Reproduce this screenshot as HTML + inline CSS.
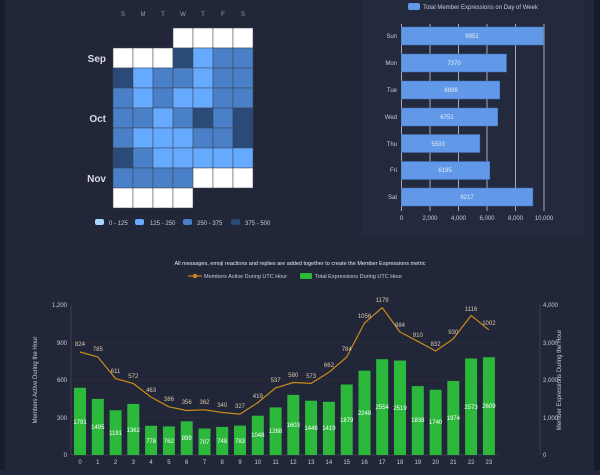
<!DOCTYPE html>
<html><head><meta charset="utf-8"><style>
body{margin:0;width:600px;height:470px;background:#222639;overflow:hidden;font-family:"Liberation Sans",sans-serif}
</style></head><body>
<svg width="600" height="470" xmlns="http://www.w3.org/2000/svg" font-family="Liberation Sans, sans-serif">
<rect width="600" height="470" fill="#222639"/>
<rect x="0" y="0" width="5" height="470" fill="#1a1d2c"/>
<rect x="594" y="0" width="6" height="470" fill="#171a27"/>
<rect x="362" y="0" width="222" height="236" fill="#242a3d"/>
<!-- heatmap -->
<g font-size="6" fill="#9aa0b0" text-anchor="middle">
<text x="123" y="16">S</text><text x="143" y="16">M</text><text x="163" y="16">T</text><text x="183" y="16">W</text><text x="203" y="16">T</text><text x="223" y="16">F</text><text x="243" y="16">S</text>
</g>
<g font-size="10" font-weight="bold" fill="#d8dae0" text-anchor="end">
<text x="106" y="62">Sep</text><text x="106" y="122">Oct</text><text x="106" y="182">Nov</text>
</g>
<g stroke="#3a3f52" stroke-width="0.5">
<rect x="173" y="28" width="20" height="20" fill="#fff"/><rect x="193" y="28" width="20" height="20" fill="#fff"/><rect x="213" y="28" width="20" height="20" fill="#fff"/><rect x="233" y="28" width="20" height="20" fill="#fff"/>
<rect x="113" y="48" width="20" height="20" fill="#fff"/><rect x="133" y="48" width="20" height="20" fill="#fff"/><rect x="153" y="48" width="20" height="20" fill="#fff"/><rect x="173" y="48" width="20" height="20" fill="#2a4a78"/><rect x="193" y="48" width="20" height="20" fill="#66aaff"/><rect x="213" y="48" width="20" height="20" fill="#4a80c8"/><rect x="233" y="48" width="20" height="20" fill="#4a80c8"/>
<rect x="113" y="68" width="20" height="20" fill="#2a4a78"/><rect x="133" y="68" width="20" height="20" fill="#66aaff"/><rect x="153" y="68" width="20" height="20" fill="#4a80c8"/><rect x="173" y="68" width="20" height="20" fill="#4a80c8"/><rect x="193" y="68" width="20" height="20" fill="#66aaff"/><rect x="213" y="68" width="20" height="20" fill="#4a80c8"/><rect x="233" y="68" width="20" height="20" fill="#4a80c8"/>
<rect x="113" y="88" width="20" height="20" fill="#4a80c8"/><rect x="133" y="88" width="20" height="20" fill="#66aaff"/><rect x="153" y="88" width="20" height="20" fill="#4a80c8"/><rect x="173" y="88" width="20" height="20" fill="#66aaff"/><rect x="193" y="88" width="20" height="20" fill="#66aaff"/><rect x="213" y="88" width="20" height="20" fill="#4a80c8"/><rect x="233" y="88" width="20" height="20" fill="#4a80c8"/>
<rect x="113" y="108" width="20" height="20" fill="#4a80c8"/><rect x="133" y="108" width="20" height="20" fill="#4a80c8"/><rect x="153" y="108" width="20" height="20" fill="#66aaff"/><rect x="173" y="108" width="20" height="20" fill="#4a80c8"/><rect x="193" y="108" width="20" height="20" fill="#2a4a78"/><rect x="213" y="108" width="20" height="20" fill="#4a80c8"/><rect x="233" y="108" width="20" height="20" fill="#2a4a78"/>
<rect x="113" y="128" width="20" height="20" fill="#4a80c8"/><rect x="133" y="128" width="20" height="20" fill="#66aaff"/><rect x="153" y="128" width="20" height="20" fill="#66aaff"/><rect x="173" y="128" width="20" height="20" fill="#66aaff"/><rect x="193" y="128" width="20" height="20" fill="#4a80c8"/><rect x="213" y="128" width="20" height="20" fill="#4a80c8"/><rect x="233" y="128" width="20" height="20" fill="#2a4a78"/>
<rect x="113" y="148" width="20" height="20" fill="#2a4a78"/><rect x="133" y="148" width="20" height="20" fill="#4a80c8"/><rect x="153" y="148" width="20" height="20" fill="#66aaff"/><rect x="173" y="148" width="20" height="20" fill="#66aaff"/><rect x="193" y="148" width="20" height="20" fill="#66aaff"/><rect x="213" y="148" width="20" height="20" fill="#66aaff"/><rect x="233" y="148" width="20" height="20" fill="#66aaff"/>
<rect x="113" y="168" width="20" height="20" fill="#4a80c8"/><rect x="133" y="168" width="20" height="20" fill="#4a80c8"/><rect x="153" y="168" width="20" height="20" fill="#4a80c8"/><rect x="173" y="168" width="20" height="20" fill="#4a80c8"/><rect x="193" y="168" width="20" height="20" fill="#fff"/><rect x="213" y="168" width="20" height="20" fill="#fff"/><rect x="233" y="168" width="20" height="20" fill="#fff"/>
<rect x="113" y="188" width="20" height="20" fill="#fff"/><rect x="133" y="188" width="20" height="20" fill="#fff"/><rect x="153" y="188" width="20" height="20" fill="#fff"/><rect x="173" y="188" width="20" height="20" fill="#fff"/>
</g>
<g font-size="6" fill="#c8ccd8">
<rect x="95" y="219" width="9" height="6" rx="2" fill="#a8d4ff"/><text x="109" y="225">0 - 125</text>
<rect x="135" y="219" width="9" height="6" rx="2" fill="#66aaff"/><text x="150" y="225">125 - 250</text>
<rect x="183" y="219" width="9" height="6" rx="2" fill="#4a80c8"/><text x="197" y="225">250 - 375</text>
<rect x="231" y="219" width="9" height="6" rx="2" fill="#2a4a78"/><text x="245" y="225">375 - 500</text>
</g>
<!-- bar chart -->
<rect x="408" y="3" width="12" height="7" rx="2" fill="#6199e8"/>
<text x="423" y="9" font-size="6" fill="#c8ccd8">Total Member Expressions on Day of Week</text>
<g stroke="#c8ccd8" stroke-width="0.8">
<line x1="430" y1="24" x2="430" y2="211"/><line x1="458.5" y1="24" x2="458.5" y2="211"/><line x1="487" y1="24" x2="487" y2="211"/><line x1="515.5" y1="24" x2="515.5" y2="211"/><line x1="544" y1="24" x2="544" y2="211"/>
<line x1="401.5" y1="24" x2="401.5" y2="211"/>
</g>
<g fill="#6199e8" stroke="#3f6fb8" stroke-width="0.5">
<rect x="401.5" y="27" width="141.8" height="18"/>
<rect x="401.5" y="54" width="105" height="18"/>
<rect x="401.5" y="81" width="98.3" height="18"/>
<rect x="401.5" y="108" width="96.2" height="18"/>
<rect x="401.5" y="134.5" width="78.4" height="18"/>
<rect x="401.5" y="161.5" width="88.3" height="18"/>
<rect x="401.5" y="188" width="131.4" height="18"/>
</g>
<g font-size="6" fill="#e8ecf4" text-anchor="middle">
<text x="472" y="38">9951</text><text x="454" y="65">7370</text><text x="451" y="92">6896</text><text x="447" y="119">6751</text><text x="438" y="146">5503</text><text x="445" y="172">6195</text><text x="467" y="199">9217</text>
</g>
<g font-size="6" fill="#c8ccd8" text-anchor="end">
<text x="397" y="38">Sun</text><text x="397" y="65">Mon</text><text x="397" y="92">Tue</text><text x="397" y="119">Wed</text><text x="397" y="146">Thu</text><text x="397" y="172">Fri</text><text x="397" y="199">Sat</text>
</g>
<g font-size="6" fill="#c8ccd8" text-anchor="middle">
<text x="401.5" y="220">0</text><text x="430" y="220">2,000</text><text x="458.5" y="220">4,000</text><text x="487" y="220">6,000</text><text x="515.5" y="220">8,000</text><text x="544" y="220">10,000</text>
</g>
<!-- bottom -->
<text x="300" y="265" font-size="5.5" fill="#e8ecf4" text-anchor="middle">All messages, emoji reactions and replies are added together to create the Member Expressions metric</text>
<line x1="188" y1="276" x2="202" y2="276" stroke="#c98a1a" stroke-width="1.2"/><circle cx="195" cy="276" r="2.2" fill="#c98a1a"/>
<text x="204" y="278" font-size="5.5" fill="#c8ccd8">Members Active During UTC Hour</text>
<rect x="300" y="273" width="12" height="6" rx="1" fill="#2bb83b"/>
<text x="315" y="278" font-size="5.5" fill="#c8ccd8">Total Expressions During UTC Hour</text>
<g stroke="#3a3328" stroke-width="0.6">
<line x1="71" y1="380" x2="498" y2="380"/><line x1="71" y1="417.5" x2="498" y2="417.5"/><line x1="71" y1="342.5" x2="498" y2="342.5"/>
</g>
<line x1="71" y1="305" x2="71" y2="455" stroke="#4a4f62" stroke-width="0.6"/>
<line x1="71" y1="455" x2="498" y2="455" stroke="#4a4f62" stroke-width="0.6"/>
<line x1="540" y1="305" x2="540" y2="455" stroke="#4a4f62" stroke-width="0.6"/>
<g font-size="6" fill="#c8ccd8" text-anchor="end">
<text x="67" y="307">1,200</text><text x="67" y="345">900</text><text x="67" y="382">600</text><text x="67" y="420">300</text><text x="67" y="457">0</text>
</g>
<g font-size="6" fill="#c8ccd8">
<text x="543" y="307">4,000</text><text x="543" y="345">3,000</text><text x="543" y="382">2,000</text><text x="543" y="420">1,000</text><text x="543" y="457">0</text>
</g>
<text transform="translate(37,380) rotate(-90)" font-size="6" fill="#c8ccd8" text-anchor="middle">Members Active During the Hour</text>
<text transform="translate(561,380) rotate(-90)" font-size="6" fill="#c8ccd8" text-anchor="middle">Member Expressions During the Hour</text>
<g fill="#2bb83b">
<rect x="74" y="387.8" width="12" height="67.2"/><rect x="91.8" y="398.9" width="12" height="56.1"/><rect x="109.6" y="410.3" width="12" height="44.7"/><rect x="127.3" y="403.9" width="12" height="51.1"/><rect x="145.1" y="425.8" width="12" height="29.2"/><rect x="162.9" y="426.4" width="12" height="28.6"/><rect x="180.7" y="421.3" width="12" height="33.7"/><rect x="198.5" y="428.5" width="12" height="26.5"/><rect x="216.2" y="426.9" width="12" height="28.1"/><rect x="234" y="425.6" width="12" height="29.4"/><rect x="251.8" y="415.7" width="12" height="39.3"/><rect x="269.6" y="407.4" width="12" height="47.6"/><rect x="287.3" y="394.9" width="12" height="60.1"/><rect x="305.1" y="400.7" width="12" height="54.3"/><rect x="322.9" y="401.8" width="12" height="53.2"/><rect x="340.7" y="384.5" width="12" height="70.5"/><rect x="358.5" y="370.7" width="12" height="84.3"/><rect x="376.2" y="359.2" width="12" height="95.8"/><rect x="394" y="360.5" width="12" height="94.5"/><rect x="411.8" y="386.1" width="12" height="68.9"/><rect x="429.6" y="389.7" width="12" height="65.3"/><rect x="447.3" y="381" width="12" height="74"/><rect x="465.1" y="358.5" width="12" height="96.5"/><rect x="482.9" y="357.2" width="12" height="97.8"/>
</g>
<g font-size="6" fill="#ffffff" text-anchor="middle">
<text x="80" y="424">1791</text><text x="97.8" y="429">1495</text><text x="115.6" y="435">1191</text><text x="133.3" y="432">1362</text><text x="151.1" y="443">778</text><text x="168.9" y="443">762</text><text x="186.7" y="440">899</text><text x="204.5" y="444">707</text><text x="222.2" y="443">748</text><text x="240" y="443">783</text><text x="257.8" y="437">1048</text><text x="275.6" y="433">1268</text><text x="293.3" y="427">1603</text><text x="311.1" y="430">1448</text><text x="328.9" y="430">1419</text><text x="346.7" y="422">1879</text><text x="364.5" y="415">2248</text><text x="382.2" y="409">2554</text><text x="400" y="410">2519</text><text x="417.8" y="422">1838</text><text x="435.6" y="424">1740</text><text x="453.3" y="420">1974</text><text x="471.1" y="409">2573</text><text x="488.9" y="408">2609</text>
</g>
<polyline fill="none" stroke="#c98a1a" stroke-width="1.2" stroke-linejoin="round" points="80,352 97.8,356.9 115.6,378.6 133.3,383.5 151.1,397.1 168.9,406.8 186.7,410.5 204.5,409.8 222.2,412.5 240,414.1 257.8,402.6 275.6,387.9 293.3,382.5 311.1,383.4 328.9,372.3 346.7,357 364.5,323 382.2,307.6 400,332 417.8,341.3 435.6,351 453.3,338.8 471.1,315.5 488.9,329.8"/>
<g font-size="6" fill="#d8c8a8" text-anchor="middle">
<text x="80" y="346">824</text><text x="97.8" y="351">785</text><text x="115.6" y="373">611</text><text x="133.3" y="378">572</text><text x="151.1" y="392">463</text><text x="168.9" y="401">386</text><text x="186.7" y="404">356</text><text x="204.5" y="404">362</text><text x="222.2" y="407">340</text><text x="240" y="408">327</text><text x="257.8" y="398">419</text><text x="275.6" y="382">537</text><text x="293.3" y="377">580</text><text x="311.1" y="378">573</text><text x="328.9" y="367">662</text><text x="346.7" y="351">784</text><text x="364.5" y="318">1056</text><text x="382.2" y="302">1179</text><text x="400" y="327">984</text><text x="417.8" y="337">910</text><text x="435.6" y="346">832</text><text x="453.3" y="334">930</text><text x="471.1" y="311">1116</text><text x="488.9" y="325">1002</text>
</g>
<g font-size="6" fill="#c8ccd8" text-anchor="middle">
<text x="80" y="464">0</text><text x="97.8" y="464">1</text><text x="115.6" y="464">2</text><text x="133.3" y="464">3</text><text x="151.1" y="464">4</text><text x="168.9" y="464">5</text><text x="186.7" y="464">6</text><text x="204.5" y="464">7</text><text x="222.2" y="464">8</text><text x="240" y="464">9</text><text x="257.8" y="464">10</text><text x="275.6" y="464">11</text><text x="293.3" y="464">12</text><text x="311.1" y="464">13</text><text x="328.9" y="464">14</text><text x="346.7" y="464">15</text><text x="364.5" y="464">16</text><text x="382.2" y="464">17</text><text x="400" y="464">18</text><text x="417.8" y="464">19</text><text x="435.6" y="464">20</text><text x="453.3" y="464">21</text><text x="471.1" y="464">22</text><text x="488.9" y="464">23</text>
</g>
</svg>
</body></html>
